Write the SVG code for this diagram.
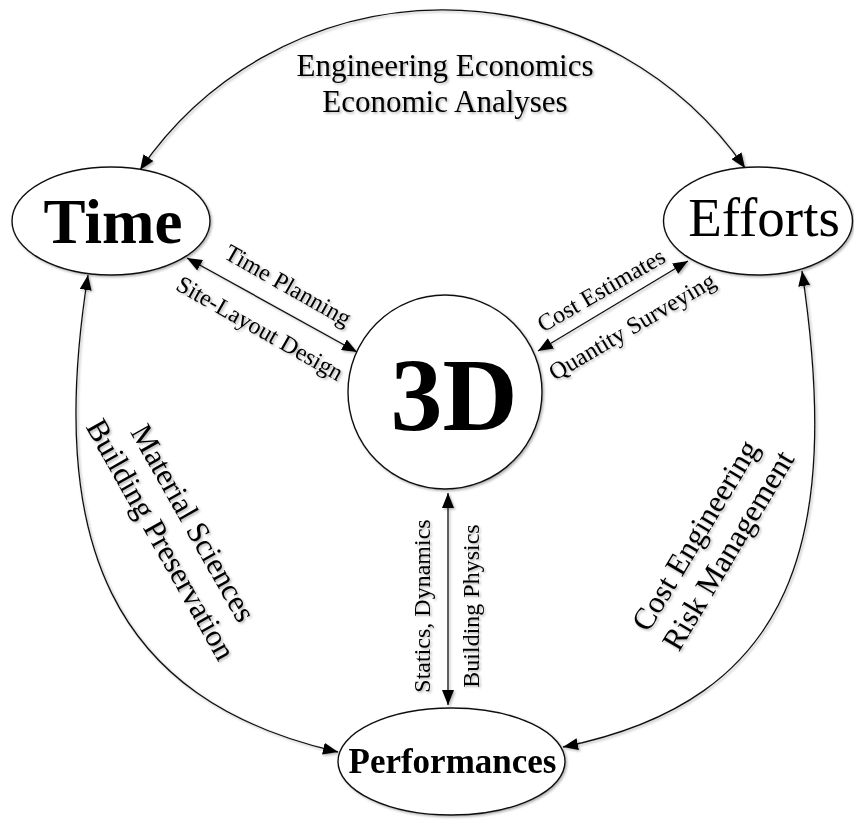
<svg xmlns="http://www.w3.org/2000/svg" width="854" height="820" viewBox="0 0 854 820">
<style>
text{font-family:"Liberation Serif","Times New Roman",serif;fill:#000;text-anchor:middle}
.node{fill:#fff;stroke:#111;stroke-width:1.4}
.conn{fill:none;stroke:#111;stroke-width:1.3}
.big{font-size:31px}
.mid{font-size:24px}
</style>
<defs>
<filter id="sh" x="-10%" y="-10%" width="120%" height="120%">
<feDropShadow dx="1.5" dy="1.5" stdDeviation="1.2" flood-color="#000" flood-opacity="0.3"/>
</filter>
<marker id="ah" viewBox="0 0 15 12" markerUnits="userSpaceOnUse" markerWidth="15" markerHeight="12" refX="15" refY="6" orient="auto-start-reverse">
<path d="M0,0 L15,6 L0,12 z" fill="#000"/>
</marker>
</defs>
<rect width="854" height="820" fill="#fff"/>
<g id="connectors" filter="url(#sh)">
<path class="conn" d="M140,170 A367,367 0 0 1 745,168" marker-start="url(#ah)" marker-end="url(#ah)"/>
<path class="conn" d="M88,275 C46,540 110,700 338,752" marker-start="url(#ah)" marker-end="url(#ah)"/>
<path class="conn" d="M802,271 C842,540 795,700 563,747" marker-start="url(#ah)" marker-end="url(#ah)"/>
<path class="conn" d="M187,258 L357,352" marker-start="url(#ah)" marker-end="url(#ah)"/>
<path class="conn" d="M538,351 L688,261" marker-start="url(#ah)" marker-end="url(#ah)"/>
<path class="conn" d="M448,493 L448,705" marker-start="url(#ah)" marker-end="url(#ah)"/>
</g>
<g id="node-time" filter="url(#sh)">
<ellipse class="node" cx="111" cy="221" rx="99" ry="54"/>
<text x="113" y="243" font-size="63" font-weight="bold">Time</text>
</g>
<g id="node-efforts" filter="url(#sh)">
<ellipse class="node" cx="758" cy="221" rx="94.5" ry="54"/>
<text x="764" y="236" font-size="55">Efforts</text>
</g>
<g id="node-3d" filter="url(#sh)">
<circle class="node" cx="445" cy="392" r="97"/>
<text x="454" y="430" font-size="104" font-weight="bold">3D</text>
</g>
<g id="node-performances" filter="url(#sh)">
<ellipse class="node" cx="451.5" cy="761.5" rx="113.5" ry="53.5"/>
<text x="452.5" y="773" font-size="35" font-weight="bold">Performances</text>
</g>
<g id="labels" filter="url(#sh)">
<text class="big" x="445" y="76">Engineering Economics</text>
<text class="big" x="445" y="112">Economic Analyses</text>
<text class="mid" transform="translate(287,287) rotate(29.5)" y="6">Time Planning</text>
<text class="mid" transform="translate(259,330) rotate(29.5)" y="6">Site-Layout Design</text>
<text class="mid" transform="translate(601,290) rotate(-30)" y="8">Cost Estimates</text>
<text class="mid" transform="translate(633,328) rotate(-30.5)" y="6">Quantity Surveying</text>
<text class="mid" transform="translate(424,606) rotate(-90)" y="6">Statics, Dynamics</text>
<text class="mid" transform="translate(473,606) rotate(-90)" y="6">Building Physics</text>
<text class="big" transform="translate(193,523) rotate(60.5)" y="10">Material Sciences</text>
<text class="big" transform="translate(158,541) rotate(60.5)" y="7">Building Preservation</text>
<text class="big" transform="translate(698,537) rotate(-59)" y="7">Cost Engineering</text>
<text class="big" transform="translate(731,552) rotate(-59)" y="7">Risk Management</text>
</g>
</svg>
